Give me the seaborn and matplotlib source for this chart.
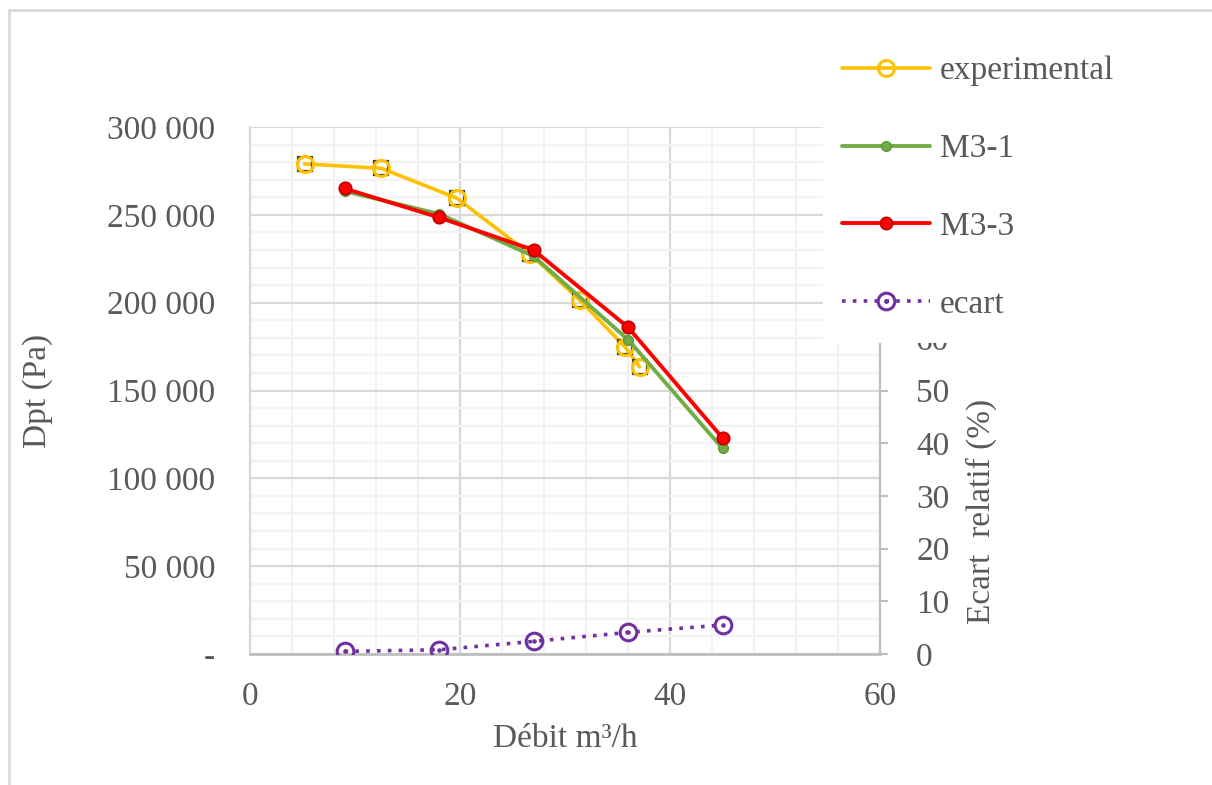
import numpy as np
import pandas as pd
import seaborn as sns
import matplotlib.pyplot as plt
from matplotlib.ticker import MultipleLocator, FixedLocator, FuncFormatter
from matplotlib.lines import Line2D
from matplotlib.patches import Rectangle

# Data
exp_debit = [5.2, 12.5, 19.7, 26.7, 31.4, 35.7, 37.1]
exp_dpt = [279000, 276500, 259500, 227500, 201500, 175000, 163500]

model_debit = [9, 18, 27, 36, 45]
m31_dpt = [263500, 250500, 226500, 179000, 117000]
m33_dpt = [265000, 248500, 230000, 186000, 123000]

ecart = [0.5, 0.8, 2.4, 4.1, 5.5]

# right axis ticks left visible below the legend
ecart_ticks = [0, 10, 20, 30, 40, 50, 60]

sns.set_theme(style='white')
plt.rcParams['font.family'] = ['Liberation Serif', 'DejaVu Serif']
text_col = '#595959'
fs = 24

fig = plt.figure(figsize=(12.12, 7.85), dpi=100)
ax = fig.add_axes([250 / 1212, 1 - 654 / 785, 630 / 1212, 527 / 785])
ax2 = ax.twinx()

# left axis series
sns.lineplot(x=exp_debit, y=exp_dpt, ax=ax, color='#FFC000', lw=2.6, marker='s',
             ms=10, mfc='none', mec='#404040', mew=1.6, zorder=3)
sns.lineplot(x=exp_debit, y=exp_dpt, ax=ax, color='#FFC000', lw=0, marker='o',
             ms=11.5, mfc='none', mec='#FFC000', mew=2.2, zorder=3)
sns.lineplot(x=model_debit, y=m31_dpt, ax=ax, color='#70AD47', lw=2.8, marker='o',
             ms=7, mfc='#70AD47', mec='#5B9A3A', mew=1, zorder=4)
sns.lineplot(x=model_debit, y=m33_dpt, ax=ax, color='#FF0000', lw=2.8, marker='o',
             ms=9, mfc='#FF0000', mec='#C00000', mew=1.2, zorder=5)

# right axis series
sns.lineplot(x=model_debit, y=ecart, ax=ax2, color='#7030A0', lw=2.6, ls=(0, (1, 2)),
             marker='o', ms=12, mfc='none', mec='#7030A0', mew=2.2)
sns.lineplot(x=model_debit, y=ecart, ax=ax2, color='#7030A0', lw=0, marker='o',
             ms=2.5, mfc='#7030A0', mec='#7030A0')

ax.set_xlim(0, 60)
ax.set_ylim(0, 300000)
ax2.set_ylim(0, 100)

ax.xaxis.set_major_locator(MultipleLocator(20))
ax.xaxis.set_minor_locator(MultipleLocator(4))
ax.yaxis.set_major_locator(MultipleLocator(50000))
ax.yaxis.set_minor_locator(MultipleLocator(10000))
ax2.yaxis.set_major_locator(FixedLocator(ecart_ticks))

ax.grid(which='major', color='#D9D9D9', lw=1.6)
ax.grid(which='minor', color='#F2F2F2', lw=1.6)
ax.set_axisbelow(True)

ax.yaxis.set_major_formatter(FuncFormatter(
    lambda v, p: '-' if v == 0 else f'{v:,.0f}'.replace(',', ' ')))

ax.tick_params(axis='x', which='both', length=0, pad=20, labelsize=fs, labelcolor=text_col)
ax.tick_params(axis='y', which='both', length=0, pad=25, labelsize=fs, labelcolor=text_col)
ax2.tick_params(axis='y', length=6, width=1.5, color='#BFBFBF', pad=20,
                labelsize=fs, labelcolor=text_col)

for s in ['top', 'right']:
    ax.spines[s].set_visible(False)
ax.spines['left'].set_color('#D9D9D9')
ax.spines['left'].set_linewidth(1.6)
ax.spines['bottom'].set_color('#BFBFBF')
ax.spines['bottom'].set_linewidth(2)
for s in ['top', 'left', 'bottom']:
    ax2.spines[s].set_visible(False)
ax2.spines['right'].set_color('#BFBFBF')
ax2.spines['right'].set_linewidth(1.6)

ax.set_xlabel('Débit m³/h', fontsize=fs, color=text_col)
ax.set_ylabel('Dpt (Pa)', fontsize=fs, color=text_col)
ax2.set_ylabel('Ecart  relatif (%)', fontsize=fs, color=text_col)
ax.xaxis.set_label_coords(0.5, -0.131)
ax.yaxis.set_label_coords(-0.313, 0.5)
ax2.yaxis.set_label_coords(1.136, 0.271)

# white legend area covering the top of the right axis
fig.patches.append(Rectangle((823 / 1212, 1 - 343 / 785), 400 / 1212, 320 / 785,
                             transform=fig.transFigure, facecolor='white',
                             edgecolor='none', zorder=2))
# chart border (only left and top edges fall inside the image)
fig.patches.append(Rectangle((9 / 1212, -0.05), 1.1, 1.05 - 10 / 785,
                             transform=fig.transFigure, facecolor='none',
                             edgecolor='#D9D9D9', lw=2, zorder=3))

handles = [
    Line2D([], [], color='#FFC000', lw=2.6, marker='o', ms=11.5, mfc='none', mew=2.2),
    Line2D([], [], color='#70AD47', lw=2.8, marker='o', ms=7, mfc='#70AD47', mec='#5B9A3A'),
    Line2D([], [], color='#FF0000', lw=2.8, marker='o', ms=9, mfc='#FF0000', mec='#C00000'),
    (Line2D([], [], color='#7030A0', lw=2.6, ls=(0, (1, 2)), marker='o', ms=12,
            mfc='none', mew=2.2),
     Line2D([], [], color='#7030A0', lw=0, marker='o', ms=2.5)),
]
labels = ['experimental', 'M3-1', 'M3-3', 'ecart']
leg = fig.legend(handles, labels, loc='upper left',
                 bbox_to_anchor=(842 / 1212, 1 - 56 / 785), frameon=False,
                 fontsize=fs, labelspacing=1.42, handlelength=2.64,
                 handletextpad=0.3, borderpad=0, borderaxespad=0)
for t in leg.get_texts():
    t.set_color(text_col)
leg.set_zorder(6)

fig.savefig('out.png', dpi=100)
